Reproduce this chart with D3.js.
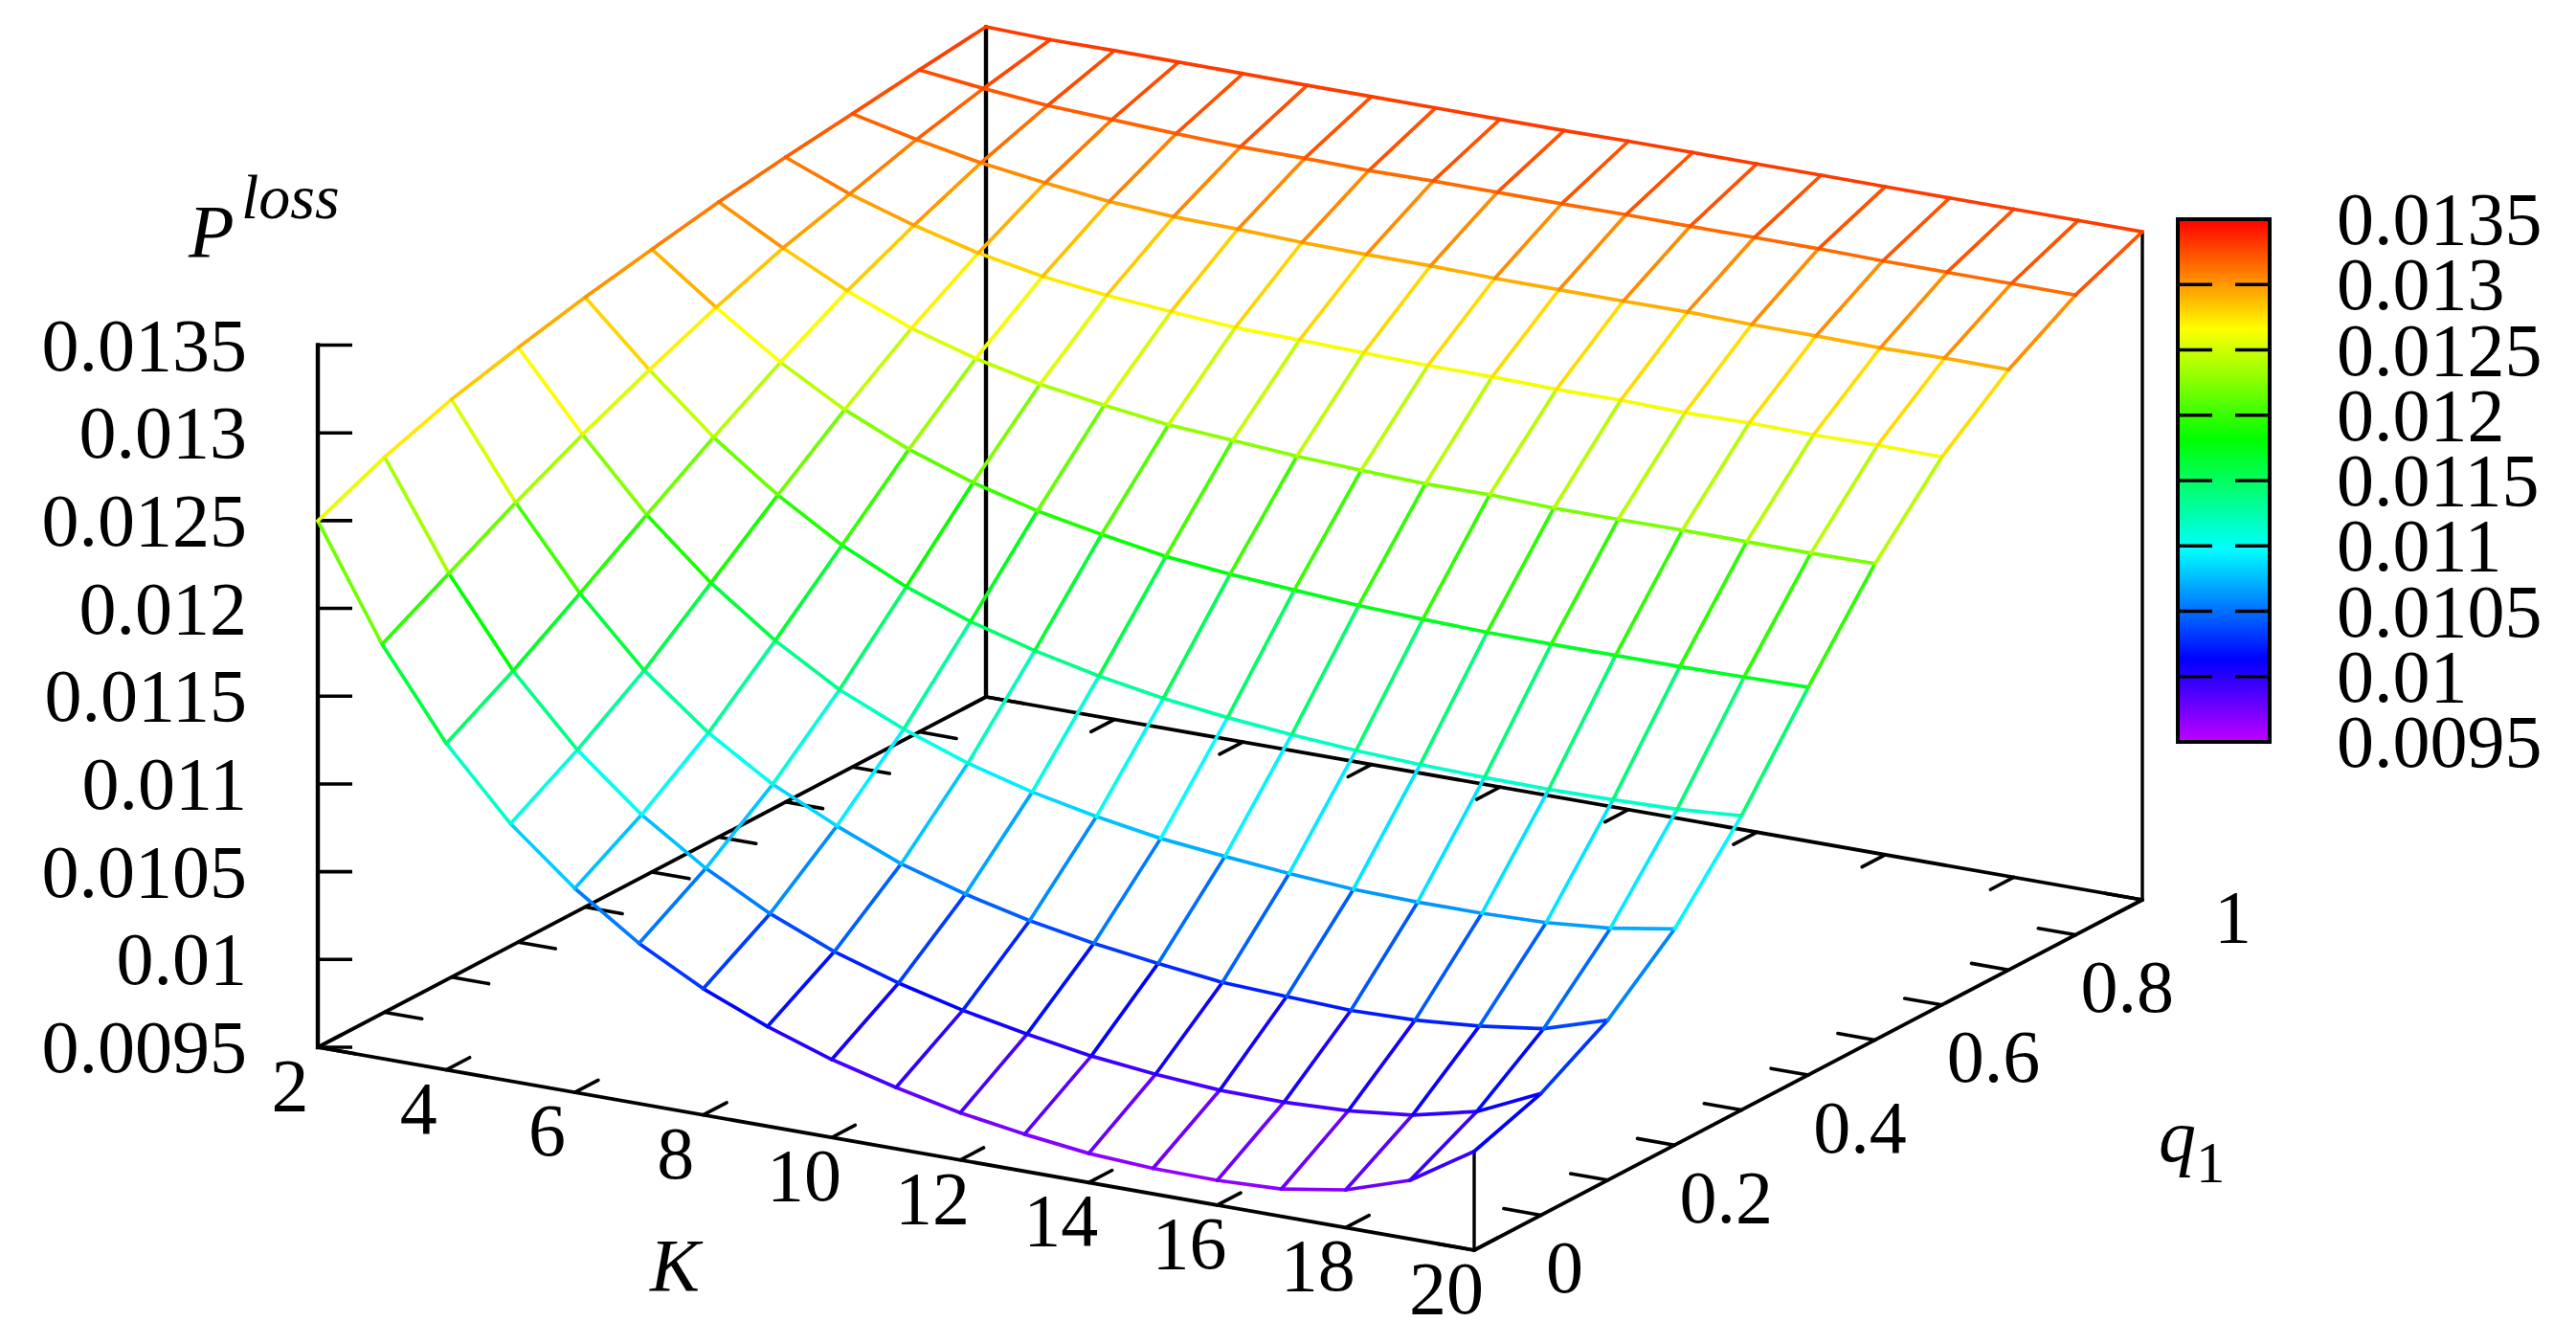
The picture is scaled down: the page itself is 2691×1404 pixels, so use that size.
<!DOCTYPE html>
<html><head><meta charset="utf-8">
<script src="https://cdnjs.cloudflare.com/ajax/libs/d3/7.8.5/d3.min.js"></script>
<style>
html,body{margin:0;padding:0;background:#fff}
svg{display:block}
text{font-family:"Liberation Serif","Times New Roman",serif;fill:#000}
</style></head><body>
<svg id="c" width="2691" height="1404"></svg>
<script>
const kValues = d3.range(2, 21);
const qValues = [0,0.1,0.2,0.3,0.4,0.5,0.6,0.7,0.8,0.9,1];
const zTicks = [0.0095,0.01,0.0105,0.011,0.0115,0.012,0.0125,0.013,0.0135];
const zTickLabels = ["0.0095","0.01","0.0105","0.011","0.0115","0.012","0.0125","0.013","0.0135"];
const kTicks = [2,4,6,8,10,12,14,16,18,20];
const qTicks = [0,0.1,0.2,0.3,0.4,0.5,0.6,0.7,0.8,0.9,1];
const qTickLabels = [[0,"0"],[0.2,"0.2"],[0.4,"0.4"],[0.6,"0.6"],[0.8,"0.8"],[1,"1"]];

const zq00 = [.012499,.011860,.011359,.010966,.010662,.010413,.010219,.010068,.009944,.009849,.009769,.009711,.009666,.009645,.009641,.009656,.009715,.009834,.010063];
const zq01 = [.012663,.012064,.011573,.011187,.010882,.010641,.010447,.010295,.010180,.010089,.010018,.009957,.009917,.009891,.009887,.009902,.009942,.010026,.010193];
const zq02 = [.012792,.012268,.011815,.011440,.011149,.010920,.010747,.010595,.010487,.010400,.010335,.010285,.010241,.010225,.010210,.010219,.010249,.010298,.010412];
const zq03 = [.012888,.012456,.012063,.011739,.011475,.011259,.011099,.010969,.010869,.010793,.010733,.010695,.010662,.010636,.010627,.010628,.010639,.010671,.010731];
const zq04 = [.012974,.012625,.012305,.012040,.011819,.011646,.011512,.011411,.011330,.011267,.011222,.011189,.011163,.011147,.011138,.011134,.011140,.011149,.011177];
const zq05 = [.013048,.012781,.012533,.012327,.012165,.012040,.011943,.011873,.011812,.011775,.011749,.011725,.011711,.011701,.011698,.011698,.011698,.011703,.011709];
const zq06 = [.013118,.012920,.012740,.012591,.012483,.012401,.012346,.012298,.012274,.012248,.012232,.012219,.012221,.012209,.012209,.012212,.012210,.012209,.012214];
const zq07 = [.013173,.013028,.012914,.012820,.012751,.012708,.012679,.012653,.012646,.012637,.012629,.012629,.012622,.012624,.012617,.012623,.012619,.012625,.012622];
const zq08 = [.013221,.013139,.013070,.013020,.012978,.012956,.012949,.012938,.012933,.012933,.012926,.012925,.012925,.012927,.012920,.012919,.012915,.012921,.012920];
const zq09 = [.013271,.013230,.013197,.013181,.013165,.013154,.013153,.013148,.013152,.013152,.013151,.013153,.013151,.013152,.013152,.013147,.013146,.013146,.013145];
const zq10 = [.013317,.013308,.013310,.013309,.013308,.013305,.013305,.013305,.013304,.013304,.013308,.013308,.013307,.013307,.013306,.013306,.013306,.013306,.013306];
const surface = [zq00,zq01,zq02,zq03,zq04,zq05,zq06,zq07,zq08,zq09,zq10];

const svg = d3.select("#c");

// oblique projection of gnuplot's 3D box, built from three linear scales
const kx = d3.scaleLinear().domain([2,20]).range([0,1208]);
const ky = d3.scaleLinear().domain([2,20]).range([0,212]);
const qx = d3.scaleLinear().domain([0,1]).range([0,698]);
const qy = d3.scaleLinear().domain([0,1]).range([0,-366]);
const zy = d3.scaleLinear().domain([0.0095,0.0135]).range([0,-733.5]);
const ox = 332, oy = 1094;
const px = (k,q) => ox + kx(k) + qx(q);
const py = (k,q,z) => oy + ky(k) + qy(q) + zy(z===undefined?0.0095:z);

const hue = d3.scaleLinear().domain([0.0095,0.0135]).range([285,0]).clamp(true);
const color = z => d3.hsl(hue(z),1,0.5).formatHex();

// base frame
const g = svg.append("g").attr("stroke","#000").attr("fill","none").attr("stroke-linecap","round");
const base = [[2,0,2,1],[2,1,20,1],[20,1,20,0],[20,0,2,0]];
g.selectAll("line.base").data(base).join("line").attr("class","base")
 .attr("x1",d=>px(d[0],d[1])).attr("y1",d=>py(d[0],d[1]))
 .attr("x2",d=>px(d[2],d[3])).attr("y2",d=>py(d[2],d[3]))
 .attr("stroke-width",3.8);

// vertical edges
g.append("line").attr("x1",px(2,0)).attr("x2",px(2,0)).attr("y1",py(2,0)).attr("y2",py(2,0,0.0135)).attr("stroke-width",4.4).attr("stroke-linecap","square");
g.append("line").attr("x1",px(2,1)).attr("x2",px(2,1)).attr("y1",py(2,1)).attr("y2",py(2,1,zq10[0])).attr("stroke-width",4.4);
g.append("line").attr("x1",px(20,1)).attr("x2",px(20,1)).attr("y1",py(20,1)).attr("y2",py(20,1,zq10[18])).attr("stroke-width",3.4);
g.append("line").attr("x1",px(20,0)).attr("x2",px(20,0)).attr("y1",py(20,0)).attr("y2",py(20,0,zq00[18])).attr("stroke-width",3.4);

// z ticks
g.selectAll("line.zt").data(zTicks).join("line").attr("class","zt")
 .attr("x1",px(2,0)).attr("x2",px(2,0)+36)
 .attr("y1",d=>py(2,0,d)).attr("y2",d=>py(2,0,d)).attr("stroke-width",3.6).attr("stroke-linecap","butt");

// K ticks on both long edges
const kLen = 0.035, qLen = 0.58;
g.selectAll("line.kf").data(kTicks).join("line").attr("class","kf")
 .attr("x1",d=>px(d,0)).attr("y1",d=>py(d,0)).attr("x2",d=>px(d,kLen)).attr("y2",d=>py(d,kLen)).attr("stroke-width",3.6);
g.selectAll("line.kb").data(kTicks).join("line").attr("class","kb")
 .attr("x1",d=>px(d,1)).attr("y1",d=>py(d,1)).attr("x2",d=>px(d,1-kLen)).attr("y2",d=>py(d,1-kLen)).attr("stroke-width",3.6);
// q ticks on both short edges
g.selectAll("line.ql").data(qTicks).join("line").attr("class","ql")
 .attr("x1",d=>px(2,d)).attr("y1",d=>py(2,d)).attr("x2",d=>px(2+qLen,d)).attr("y2",d=>py(2+qLen,d)).attr("stroke-width",3.6);
g.selectAll("line.qr").data(qTicks).join("line").attr("class","qr")
 .attr("x1",d=>px(20,d)).attr("y1",d=>py(20,d)).attr("x2",d=>px(20-qLen,d)).attr("y2",d=>py(20-qLen,d)).attr("stroke-width",3.6);

// surface wireframe: every grid edge is one segment coloured by its mean value
const segs = [];
qValues.forEach((q,i)=>kValues.forEach((k,j)=>{
  const z = surface[i][j];
  if (j<kValues.length-1) segs.push({k1:k,q1:q,z1:z,k2:kValues[j+1],q2:q,z2:surface[i][j+1]});
  if (i<qValues.length-1) segs.push({k1:k,q1:q,z1:z,k2:k,q2:qValues[i+1],z2:surface[i+1][j]});
}));
svg.append("g").attr("stroke-linecap","round").selectAll("line").data(segs).join("line")
 .attr("x1",d=>px(d.k1,d.q1)).attr("y1",d=>py(d.k1,d.q1,d.z1))
 .attr("x2",d=>px(d.k2,d.q2)).attr("y2",d=>py(d.k2,d.q2,d.z2))
 .attr("stroke",d=>color((d.z1+d.z2)/2)).attr("stroke-width",3.7);

// tick labels
const fs = 78;
svg.append("g").selectAll("text").data(zTicks).join("text")
 .attr("x",258).attr("y",d=>py(2,0,d)+26).attr("text-anchor","end").attr("font-size",fs)
 .text((d,i)=>zTickLabels[i]);
svg.append("g").selectAll("text").data(kTicks).join("text")
 .attr("x",d=>px(d,0)-29).attr("y",d=>py(d,0)+66).attr("text-anchor","middle").attr("font-size",fs)
 .text(d=>d);
svg.append("g").selectAll("text").data(qTickLabels).join("text")
 .attr("x",d=>px(20,d[0])+75).attr("y",d=>py(20,d[0])+44).attr("text-anchor","start").attr("font-size",fs)
 .text(d=>d[1]);

// axis titles
const t1 = svg.append("text").attr("x",197).attr("y",268).attr("font-size",fs).attr("font-style","italic");
t1.append("tspan").text("P");
t1.append("tspan").attr("x",252).attr("y",228).attr("font-size",66).text("loss");
svg.append("text").attr("x",705).attr("y",1348).attr("text-anchor","middle").attr("font-size",fs).attr("font-style","italic").text("K");
const t2 = svg.append("text").attr("font-size",fs);
t2.append("tspan").attr("x",2255).attr("y",1213).attr("font-style","italic").text("q");
t2.append("tspan").attr("x",2294).attr("y",1235).attr("font-size",61).text("1");

// colour box
const cbY = d3.scaleLinear().domain([0.0095,0.0135]).range([775,229]);
const cbSteps = d3.range(0,cbY.range()[0]-cbY.range()[1]);
const cb = svg.append("g");
cb.selectAll("rect").data(cbSteps).join("rect")
 .attr("x",2275).attr("width",96).attr("y",d=>cbY.range()[1]+d).attr("height",1.2)
 .attr("fill",d=>color(cbY.invert(cbY.range()[1]+d+0.5)));
cb.append("rect").attr("x",2275).attr("y",cbY.range()[1]).attr("width",96).attr("height",cbY.range()[0]-cbY.range()[1])
 .attr("fill","none").attr("stroke","#000").attr("stroke-width",4);
cb.selectAll("line.a").data(zTicks).join("line").attr("class","a").attr("x1",2275).attr("x2",2311)
 .attr("y1",d=>cbY(d)).attr("y2",d=>cbY(d)).attr("stroke","#000").attr("stroke-width",3.6);
cb.selectAll("line.b").data(zTicks).join("line").attr("class","b").attr("x1",2335).attr("x2",2371)
 .attr("y1",d=>cbY(d)).attr("y2",d=>cbY(d)).attr("stroke","#000").attr("stroke-width",3.6);
svg.append("g").selectAll("text").data(zTicks).join("text")
 .attr("x",2441).attr("y",d=>cbY(d)+26).attr("font-size",fs)
 .text((d,i)=>zTickLabels[i]);
</script>
</body></html>
